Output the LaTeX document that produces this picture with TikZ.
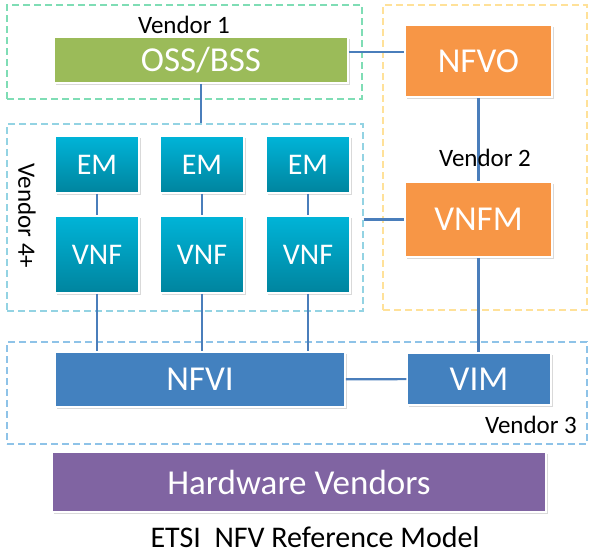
\documentclass[tikz,border=0pt]{standalone}
\usepackage{fontspec}
\setmainfont{Carlito}
\usetikzlibrary{shadows}
\definecolor{ossgreen}{HTML}{9BBB59}
\definecolor{mgmtorange}{HTML}{F79646}
\definecolor{vnftop}{HTML}{00B4D8}
\definecolor{vnfbottom}{HTML}{00849E}
\definecolor{infrablue}{HTML}{4381BF}
\definecolor{hwpurple}{HTML}{8064A2}
\definecolor{linkblue}{HTML}{4A7EBB}
\definecolor{dashgreen}{HTML}{7FDDB5}
\definecolor{dashyellow}{HTML}{FFE199}
\definecolor{dashcyan}{HTML}{93D3E3}
\definecolor{dashblue}{HTML}{8EC3E8}
\begin{document}
\begin{tikzpicture}[x=1pt,y=-1pt,
  block/.style={draw=white,line width=1.5pt,text=white,inner sep=0pt,
    font=\fontsize{35}{42}\selectfont,
    drop shadow={shadow xshift=1.5pt,shadow yshift=-2pt,opacity=.3}},
  tealbox/.style={block,top color=vnftop,middle color=vnftop,bottom color=vnfbottom,
    font=\fontsize{30}{36}\selectfont,minimum width=84,minimum height=#1},
  group/.style={draw=#1,line width=1.2pt,dash pattern=on 7pt off 4pt,inner sep=0pt},
  link/.style={draw=linkblue,line width=2.2pt},
  thinlink/.style={draw=linkblue,line width=1.1pt},
  vendor/.style={anchor=base,font=\fontsize{25}{30}\selectfont}]
\useasboundingbox (0,0) rectangle (595,557);
% vendor groups
\node [group=dashgreen,minimum width=355,minimum height=94] (g1) at (184.5,52) {};
\node [group=dashyellow,minimum width=204,minimum height=305] (g2) at (485,157.5) {};
\node [group=dashblue,minimum width=580,minimum height=102] (g3) at (297,393) {};
\node [group=dashcyan,minimum width=356,minimum height=187] (g4) at (185,217.5) {};
% blocks
\node [block,fill=ossgreen,minimum width=294,minimum height=46] (v0) at (201,60) {OSS/BSS};
\node [block,fill=mgmtorange,minimum width=147,minimum height=72] (v1) at (478.5,61) {NFVO};
\node [block,fill=mgmtorange,minimum width=147,minimum height=75] (v2) at (478.5,219.5) {VNFM};
\node [tealbox=57] (v3) at (97,164.5) {EM};
\node [tealbox=57] (v4) at (202,164.5) {EM};
\node [tealbox=57] (v5) at (308,164.5) {EM};
\node [tealbox=77] (v6) at (97,254.5) {VNF};
\node [tealbox=77] (v7) at (202,254.5) {VNF};
\node [tealbox=77] (v8) at (308,254.5) {VNF};
\node [block,fill=infrablue,minimum width=290,minimum height=55] (v9) at (200,379.5) {NFVI};
\node [block,fill=infrablue,minimum width=144,minimum height=52] (v10) at (479,379) {VIM};
\node [block,fill=hwpurple,minimum width=494,minimum height=60] (v11) at (299,482) {Hardware Vendors};
% links
\draw [link] ([yshift=8pt]v0.east) edge ([yshift=8pt]v0.east -| v1.west);
\draw [thinlink] (v0.south) edge (v0.south |- g4.north);
\draw [link] (v1) edge (v2);
\draw [link] (g4.east |- v2.west) edge (v2.west);
\draw [link] (v2.south) edge (v2.south |- v10.north);
\draw [link] (v9) edge (v10);
\draw [thinlink] (v3) edge (v6) (v4) edge (v7) (v5) edge (v8);
\draw [thinlink] (v6.south) edge (v6.south |- v9.north)
  (v7.south) edge (v7.south |- v9.north)
  (v8.south) edge (v8.south |- v9.north);
% labels
\node [vendor] (l1) at (184,33) {Vendor 1};
\node [vendor] (l2) at (485,166) {Vendor 2};
\node [vendor] (l3) at (531,433) {Vendor 3};
\node [vendor,anchor=center,rotate=-90] (l4) at (27,216) {Vendor 4+};
\node [anchor=base,font=\fontsize{30}{36}\selectfont] (l5) at (315,547) {ETSI\ \ NFV Reference Model};
\end{tikzpicture}
\end{document}
